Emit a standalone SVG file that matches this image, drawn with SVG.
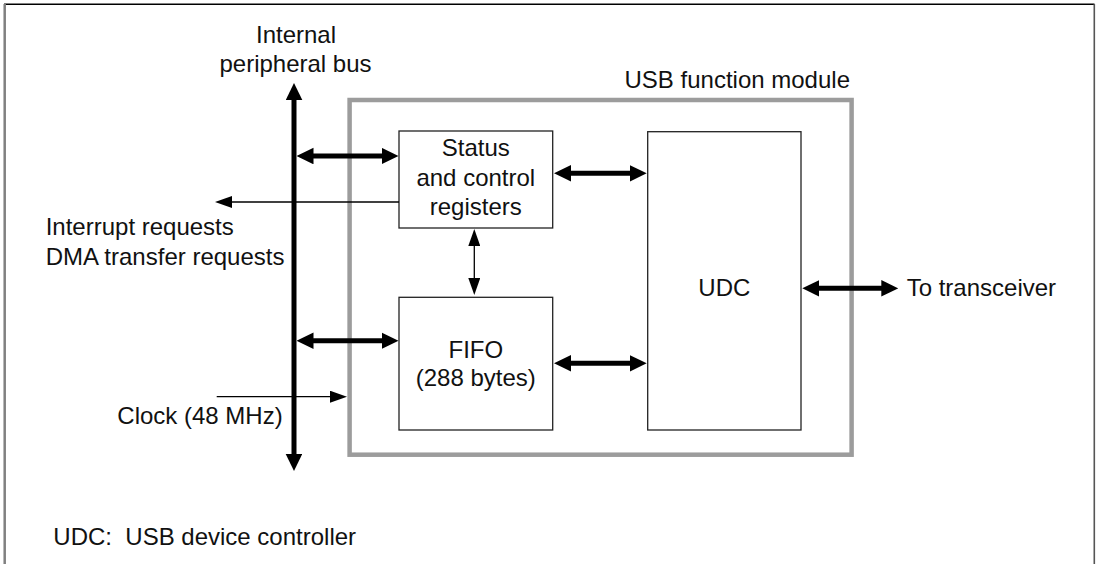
<svg xmlns="http://www.w3.org/2000/svg" width="1099" height="564" viewBox="0 0 1099 564">
<style>
  text { font-family: "Liberation Sans", Arial, sans-serif; font-size: 24px; fill: #111; }
  .c { text-anchor: middle; }
  .box { fill: #fff; stroke: #222; stroke-width: 1.3; }
  .thick { stroke: #000; stroke-width: 5; fill: none; }
  .thin { stroke: #000; stroke-width: 1.3; fill: none; }
</style>
<defs>
  <marker id="ah" markerUnits="userSpaceOnUse" markerWidth="17" markerHeight="17" refX="7" refY="8.3" orient="auto-start-reverse">
    <path d="M0,0 L17,8.3 L0,16.6 z" fill="#000"/>
  </marker>
  <marker id="as" markerUnits="userSpaceOnUse" markerWidth="17" markerHeight="12" refX="7" refY="6" orient="auto-start-reverse">
    <path d="M0,0 L17,6 L0,12 z" fill="#000"/>
  </marker>
</defs>
<rect width="1099" height="564" fill="#fff"/>
<g id="frame">
  <line x1="4" y1="4.3" x2="1094.5" y2="4.3" stroke="#000" stroke-width="1.6"/>
  <line x1="4.7" y1="4" x2="4.7" y2="564" stroke="#808080" stroke-width="2.5"/>
  <line x1="1094.3" y1="4" x2="1094.3" y2="564" stroke="#555" stroke-width="1.6"/>
</g>
<g id="usb-module">
  <rect x="349.6" y="100" width="502" height="354.7" fill="none" stroke="#9c9c9c" stroke-width="4.5"/>
  <text x="850" y="88.3" text-anchor="end">USB function module</text>
</g>
<g id="status-registers">
  <rect class="box" x="399" y="131" width="153.7" height="97"/>
  <text class="c" x="475.8" y="156">Status</text>
  <text class="c" x="475.8" y="185.5">and control</text>
  <text class="c" x="475.8" y="215">registers</text>
</g>
<g id="fifo">
  <rect class="box" x="399" y="297.3" width="153.7" height="132.7"/>
  <text class="c" x="475.8" y="357.5">FIFO</text>
  <text class="c" x="475.8" y="386">(288 bytes)</text>
</g>
<g id="udc">
  <rect class="box" x="647.7" y="131.7" width="153.3" height="298.3"/>
  <text class="c" x="724.3" y="296">UDC</text>
</g>
<g id="labels">
  <text class="c" x="296" y="43.3">Internal</text>
  <text class="c" x="295.5" y="72">peripheral bus</text>
  <text x="45.7" y="235">Interrupt requests</text>
  <text x="45.7" y="265">DMA transfer requests</text>
  <text x="117.3" y="423.5">Clock (48 MHz)</text>
  <text x="906.7" y="296">To transceiver</text>
  <text x="53.3" y="545" xml:space="preserve">UDC:  USB device controller</text>
</g>
<g id="connectors">
  <line class="thick" x1="294" y1="93" x2="294" y2="461" marker-start="url(#ah)" marker-end="url(#ah)"/>
  <line class="thick" x1="306.5" y1="156" x2="388.5" y2="156" marker-start="url(#ah)" marker-end="url(#ah)"/>
  <line class="thick" x1="306.5" y1="340.7" x2="388.5" y2="340.7" marker-start="url(#ah)" marker-end="url(#ah)"/>
  <line class="thick" x1="564" y1="173.3" x2="636.7" y2="173.3" marker-start="url(#ah)" marker-end="url(#ah)"/>
  <line class="thick" x1="564" y1="363.3" x2="636.7" y2="363.3" marker-start="url(#ah)" marker-end="url(#ah)"/>
  <line class="thick" x1="812.3" y1="288.3" x2="888.3" y2="288.3" marker-start="url(#ah)" marker-end="url(#ah)"/>
  <line class="thin" x1="399" y1="202" x2="225" y2="202" marker-end="url(#as)"/>
  <line class="thin" x1="216.7" y1="396.7" x2="337" y2="396.7" marker-end="url(#as)"/>
  <line class="thin" x1="474.3" y1="239" x2="474.3" y2="285" marker-start="url(#as)" marker-end="url(#as)"/>
</g>
</svg>
